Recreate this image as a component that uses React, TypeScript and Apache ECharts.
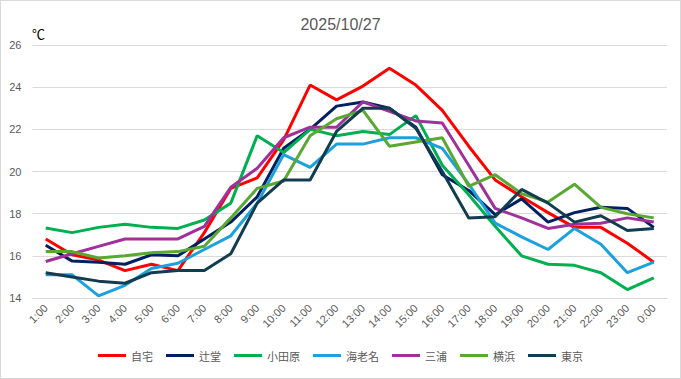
import React, { useEffect, useRef } from "react";
import * as echarts from "echarts";

const hours = ["1:00","2:00","3:00","4:00","5:00","6:00","7:00","8:00","9:00","10:00","11:00","12:00","13:00","14:00","15:00","16:00","17:00","18:00","19:00","20:00","21:00","22:00","23:00","0:00"];

const seriesNames = ["自宅","辻堂","小田原","海老名","三浦","横浜","東京"];
const seriesColors = ["#FF0000","#002060","#00B050","#1BA1DE","#A0309A","#58A832","#123C50"];

const jitaku = [16.8,16.05,15.8,15.3,15.6,15.3,17.1,19.2,19.7,21.5,24.1,23.4,24.05,24.9,24.1,22.9,21.2,19.6,18.8,18.05,17.35,17.35,16.6,15.7];
const tsujido = [16.5,15.75,15.7,15.6,16.05,16.0,16.8,17.6,18.8,21.1,22.0,23.1,23.3,23.0,22.1,19.85,19.1,17.95,18.7,17.6,18.05,18.3,18.25,17.35];
const odawara = [17.32,17.1,17.35,17.5,17.35,17.3,17.7,18.5,21.7,20.9,22.0,21.7,21.9,21.75,22.65,20.3,18.9,17.4,16.0,15.6,15.55,15.2,14.4,14.95];
const ebina = [15.1,15.1,14.1,14.6,15.4,15.65,16.3,16.95,18.5,20.8,20.2,21.3,21.3,21.6,21.6,21.1,19.4,17.55,16.9,16.3,17.3,16.55,15.2,15.7];
const miura = [15.73,16.1,16.45,16.8,16.8,16.8,17.4,19.25,20.15,21.6,22.1,22.1,23.3,22.85,22.4,22.3,20.3,18.25,17.8,17.3,17.5,17.55,17.8,17.6];
const yokohama = [16.2,16.2,15.9,16.0,16.15,16.2,16.45,17.8,19.2,19.55,21.7,22.5,22.9,21.2,21.4,21.6,19.3,19.85,18.95,18.55,19.4,18.3,18.0,17.8];
const tokyo = [15.2,15.0,14.8,14.7,15.2,15.3,15.3,16.1,18.5,19.6,19.6,21.9,23.0,23.0,22.05,20.0,17.8,17.85,19.15,18.5,17.6,17.9,17.2,17.3];

const allData = [jitaku, tsujido, odawara, ebina, miura, yokohama, tokyo];

const titleText = "2025/10/27";
const unitText = "℃";

export default function App() {
  const ref = useRef<HTMLDivElement>(null);
  useEffect(() => {
    if (!ref.current) return;
    const chart = echarts.init(ref.current, undefined, { renderer: "svg" });
    const font = "'Liberation Sans', Arial, sans-serif";
    chart.setOption({
      animation: false,
      backgroundColor: "#ffffff",
      textStyle: { fontFamily: font },
      title: {
        text: titleText,
        left: "center",
        top: 10,
        textStyle: { fontSize: 16, fontWeight: "normal", color: "#595959", fontFamily: font },
      },
      graphic: [
        {
          type: "text",
          left: 31,
          top: 26,
          style: { text: unitText, fontSize: 13, fill: "#000000", fontFamily: "'Noto Sans CJK JP', sans-serif" },
        },
      ],
      legend: {
        bottom: 12,
        left: "center",
        icon: "rect",
        itemWidth: 28,
        itemHeight: 3,
        itemGap: 13,
        textStyle: { fontSize: 11, color: "#595959", fontFamily: "'Noto Sans CJK JP', sans-serif" },
        data: seriesNames,
      },
      grid: { left: 31.5, right: 13, top: 44, bottom: 80, containLabel: false },
      xAxis: {
        type: "category",
        data: hours,
        boundaryGap: true,
        axisLine: { show: true, lineStyle: { color: "#d9d9d9" } },
        axisTick: { show: false },
        axisLabel: { rotate: 45, fontSize: 11, color: "#595959", margin: 8, interval: 0 },
      },
      yAxis: {
        type: "value",
        min: 14,
        max: 26,
        interval: 2,
        axisLine: { show: false },
        axisTick: { show: false },
        axisLabel: { fontSize: 11, color: "#595959", margin: 11 },
        splitLine: { lineStyle: { color: "#d9d9d9", width: 1 } },
      },
      series: seriesNames.map((name, i) => ({
        name,
        type: "line",
        data: allData[i],
        symbol: "none",
        color: seriesColors[i],
        lineStyle: { width: 3, color: seriesColors[i] },
      })),
    });
    return () => chart.dispose();
  }, []);
  return (
    <div
      style={{
        position: "absolute",
        left: 0,
        top: 0,
        width: 681,
        height: 379,
        border: "1px solid #d9d9d9",
        boxSizing: "border-box",
        background: "#fff",
      }}
    >
      <div ref={ref} style={{ width: 679, height: 377 }} />
    </div>
  );
}
